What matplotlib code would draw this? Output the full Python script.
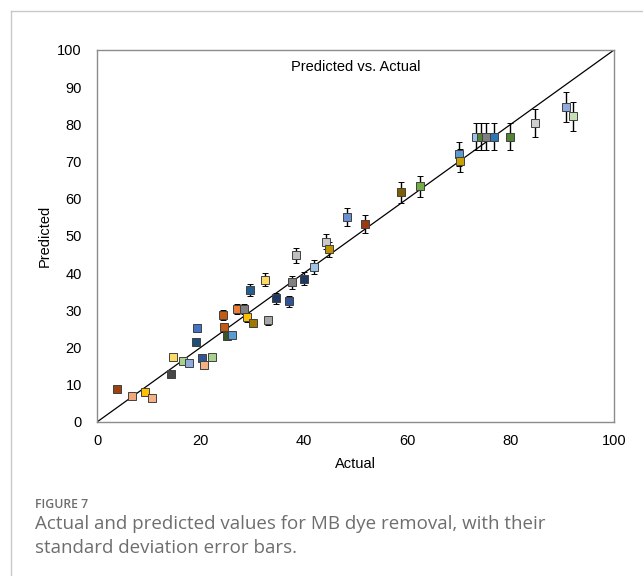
import matplotlib
matplotlib.use("Agg")
import matplotlib.pyplot as plt
from matplotlib.lines import Line2D

# values
actual = [3.8, 6.8, 9.2, 10.7, 14.3, 14.6, 16.6, 17.8, 20.3, 20.7, 22.3,
          19.1, 19.3, 24.4, 24.6, 25.1, 26.2, 27.1, 28.4, 29.1, 30.1, 33.0,
          32.5, 29.5, 34.6, 37.2, 37.7, 40.1, 38.4, 42.0, 44.3, 44.9, 48.4,
          51.9, 58.8, 62.5, 70.1, 70.3, 73.4, 74.3, 75.3, 76.7, 79.9, 84.7,
          90.8, 92.1]
predicted = [8.8, 7.0, 8.1, 6.5, 12.9, 17.4, 16.4, 15.8, 17.1, 15.3, 17.5,
             21.5, 25.2, 28.8, 25.4, 23.1, 23.5, 30.4, 30.4, 28.1, 26.6, 27.4,
             38.3, 35.4, 33.2, 32.4, 37.5, 38.5, 44.8, 41.7, 48.5, 46.4, 55.1,
             53.3, 61.7, 63.4, 72.0, 70.2, 76.7, 76.7, 76.7, 76.7, 76.7, 80.3,
             84.7, 82.2]
std_err = [0.4, 0.3, 0.4, 0.3, 0.6, 0.8, 0.7, 0.7, 0.8, 0.7, 0.8,
           1.0, 1.1, 1.3, 1.1, 1.0, 1.0, 1.3, 1.3, 1.2, 1.2, 1.2,
           1.7, 1.6, 1.4, 1.4, 1.7, 1.7, 2.0, 1.8, 2.1, 2.0, 2.5,
           2.4, 2.8, 2.8, 3.2, 3.1, 3.6, 3.6, 3.6, 3.6, 3.6, 3.8,
           4.0, 3.9]
colors = ["#9C420E", "#F4A77A", "#FFC000", "#F4B183", "#474747", "#FFD966",
          "#A9D18E", "#8FAADC", "#2F5597", "#F4B183", "#A9D18E",
          "#1F4E79", "#4472C4", "#C55A11", "#C55A11", "#385723", "#5B9BD5",
          "#ED7D31", "#7F7F7F", "#FFC000", "#A07800", "#A6A6A6",
          "#FFD966", "#255E91", "#203864", "#2F5597", "#808080", "#1F3864",
          "#BFBFBF", "#9DC3E6", "#C9C9C9", "#BF9000", "#6A8FD0",
          "#9E3A0E", "#7F6000", "#70AD47", "#5B9BD5", "#C9A000", "#9DC3E6",
          "#548235", "#7F7F7F", "#2E75B6", "#548235", "#D0CECE",
          "#8FAADC", "#C5E0B4"]

plt.rcParams["font.family"] = ["Liberation Sans", "DejaVu Sans"]

fig = plt.figure(figsize=(6.43, 5.76), dpi=100)
ax = fig.add_axes([0.1509, 0.2674, 0.804, 0.6458])

# 1:1 reference line
ax.plot([0, 100], [0, 100], color="black", lw=0.9, zorder=1)

for x, y, e, c in zip(actual, predicted, std_err, colors):
    ax.errorbar(x, y, yerr=e, fmt="s", ms=6.3, mfc=c, mec="#404040", mew=0.7,
                ecolor="black", elinewidth=1.0, capsize=2.2, capthick=1.0, zorder=3)

ax.set_xlim(0, 100)
ax.set_ylim(0, 100)
ax.set_xticks(range(0, 101, 20))
ax.set_yticks(range(0, 101, 10))
ax.tick_params(length=0, labelsize=10.5)
ax.tick_params(axis="y", pad=11)
ax.tick_params(axis="x", pad=9)
for sp in ax.spines.values():
    sp.set_color("#8c8c8c")
    sp.set_linewidth(1.0)

ax.set_xlabel("Actual", fontsize=10.5, labelpad=6)
ax.set_ylabel("Predicted", fontsize=10.5, labelpad=4)
ax.text(0.5, 0.955, "Predicted vs. Actual", transform=ax.transAxes,
        ha="center", va="center", fontsize=10.5)

# outer frame lines of the figure panel
fig.add_artist(Line2D([11 / 643, 1.0], [1 - 11 / 576, 1 - 11 / 576],
                      color="#c8c8c8", lw=1.0))
fig.add_artist(Line2D([11 / 643, 11 / 643], [0, 1 - 11 / 576],
                      color="#c8c8c8", lw=1.0))

# caption
fig.text(35 / 643, 1 - 504 / 576, "FIGURE 7", fontsize=8.8, color="#6e6e6e",
         family=["Open Sans", "DejaVu Sans"], va="center", weight="semibold")
fig.text(35 / 643, 1 - 536 / 576,
         "Actual and predicted values for MB dye removal, with their\n"
         "standard deviation error bars.",
         fontsize=13.5, color="#6e6e6e", family=["Open Sans", "DejaVu Sans"],
         va="center", linespacing=1.4)

fig.savefig("out.png", dpi=100)
